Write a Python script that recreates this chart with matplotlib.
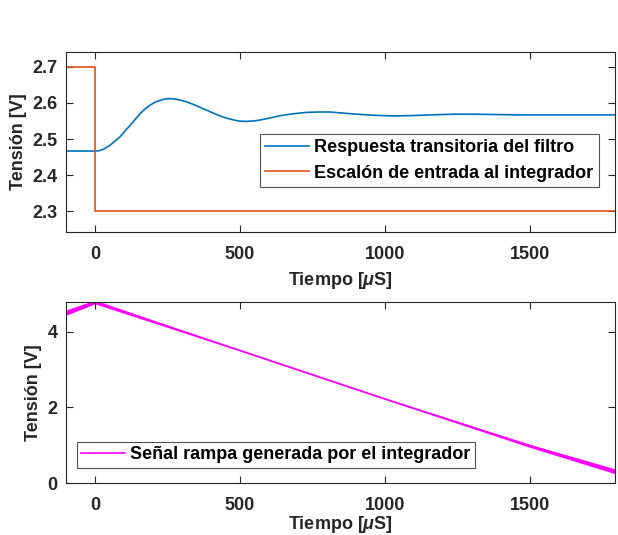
import matplotlib
matplotlib.use("Agg")
import matplotlib.pyplot as plt
import numpy as np

plt.rcParams['font.family'] = ['Liberation Sans', 'DejaVu Sans']
plt.rcParams['font.weight'] = 'bold'
plt.rcParams['mathtext.fontset'] = 'custom'
plt.rcParams['mathtext.it'] = 'Liberation Sans:italic:bold'
plt.rcParams['mathtext.rm'] = 'Liberation Sans:bold'

# ---- data ----
resp_t = [-100, 0, 15, 29, 40, 52, 68, 86, 103, 121, 138, 155, 172, 190, 207, 224, 241, 259,
          276, 293, 316, 339, 362, 385, 413, 442, 468, 494, 520, 545, 570, 600, 640, 682,
          730, 774, 810, 854, 902, 960, 1029, 1090, 1155, 1240, 1300, 1380, 1460, 1550,
          1650, 1793]
resp_v = [2.467, 2.467, 2.468, 2.472, 2.477, 2.483, 2.494, 2.506, 2.522, 2.538, 2.554, 2.570,
          2.583, 2.594, 2.602, 2.607, 2.611, 2.612, 2.611, 2.608, 2.603, 2.596, 2.588, 2.580,
          2.570, 2.561, 2.555, 2.550, 2.549, 2.550, 2.553, 2.558, 2.565, 2.570, 2.574, 2.575,
          2.575, 2.572, 2.569, 2.566, 2.564, 2.565, 2.567, 2.569, 2.569, 2.568, 2.567, 2.567,
          2.567, 2.567]

step_t = [-100, 0, 0, 1793]
step_v = [2.7, 2.7, 2.3, 2.3]

ramp_t = [-100, 0, 500, 1000, 1500, 1793]
ramp_v = [4.50, 4.78, 3.50, 2.22, 0.98, 0.31]
ramp_ripple = [0.07, 0.05, 0.012, 0.012, 0.04, 0.065]

xticks = [0, 500, 1000, 1500]
yticks_top = [2.3, 2.4, 2.5, 2.6, 2.7]
yticks_bot = [0, 2, 4]

c_blue = '#0072BD'
c_orange = '#D95319'
c_mag = '#FF00FF'
fs = 13

fig = plt.figure(figsize=(6.18, 5.35), dpi=100)
ax1 = fig.add_axes([66/618, 1-232/535, (615-66)/618, (232-52)/535])
ax2 = fig.add_axes([66/618, 1-483/535, (615-66)/618, (483-302)/535])

ax1.plot(resp_t, resp_v, color=c_blue, lw=1.2, label='Respuesta transitoria del filtro')
ax1.plot(step_t, step_v, color=c_orange, lw=1.2, label='Escalón de entrada al integrador')
ax1.set_xlim(-100, 1793)
ax1.set_ylim(2.243, 2.741)
ax1.set_xticks(xticks)
ax1.set_yticks(yticks_top)
ax1.set_ylabel('Tensión [V]', fontsize=fs, fontweight='bold', labelpad=4)
ax1.set_xlabel(r'Tiempo [$\mu$S]', fontsize=fs, fontweight='bold', labelpad=5)
leg1 = ax1.legend(loc='lower right', bbox_to_anchor=(0.97, 0.25), fontsize=fs, frameon=True,
                  fancybox=False, edgecolor='#262626', handlelength=2.4, borderpad=0.3,
                  labelspacing=0.45, handletextpad=0.3, borderaxespad=0)
leg1.get_frame().set_linewidth(0.8)

rt = np.array(ramp_t, float)
rv = np.array(ramp_v, float)
rr = np.array(ramp_ripple, float)
ax2.fill_between(rt, rv - rr, rv + rr, color=c_mag, lw=0)
ax2.plot(rt, rv, color=c_mag, lw=1.2, label='Señal rampa generada por el integrador')
ax2.set_xlim(-100, 1793)
ax2.set_ylim(0, 4.78)
ax2.set_xticks(xticks)
ax2.set_yticks(yticks_bot)
ax2.set_ylabel('Tensión [V]', fontsize=fs, fontweight='bold', labelpad=4)
ax2.set_xlabel(r'Tiempo [$\mu$S]', fontsize=fs, fontweight='bold', labelpad=0)
leg2 = ax2.legend(loc='lower left', bbox_to_anchor=(0.02, 0.085), fontsize=fs, frameon=True,
                  fancybox=False, edgecolor='#262626', handlelength=2.4, borderpad=0.25,
                  handletextpad=0.3, borderaxespad=0)
leg2.get_frame().set_linewidth(0.8)

for ax in (ax1, ax2):
    for s in ax.spines.values():
        s.set_color('#262626')
        s.set_linewidth(0.8)
    ax.tick_params(direction='in', top=True, right=True, length=5, width=0.8,
                   colors='#262626', labelsize=fs)
    ax.tick_params(axis='x', pad=10)
    ax.tick_params(axis='y', pad=6)
    for lab in ax.get_xticklabels() + ax.get_yticklabels():
        lab.set_fontweight('bold')
    ax.xaxis.label.set_color('#262626')
    ax.yaxis.label.set_color('#262626')

fig.savefig('out.png', dpi=100)
